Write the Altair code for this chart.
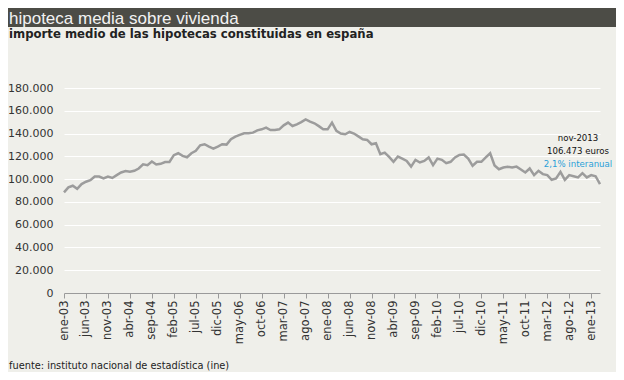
import altair as alt
import pandas as pd

# Monthly average mortgage amount (euros), ene-03 .. mar-13
values = [88300, 92700, 94200, 91500, 95600, 97700, 99000, 102300, 102300, 100600,
          102300, 101000, 103500, 105800, 107000, 106400, 107300, 109300, 113000, 112200,
          115500, 112800, 113400, 115000, 115000, 121000, 122700, 120400, 119200, 122700,
          124800, 129700, 130600, 128600, 126800, 128600, 130600, 130300, 135000, 137300,
          138800, 140200, 140200, 140800, 142800, 143700, 145200, 143100, 143100, 143700,
          147200, 149600, 146600, 148100, 150100, 152500, 150500, 149000, 146500, 143700,
          143700, 149600, 142300, 140000, 139400, 141400, 140000, 137500, 135000, 134400,
          130600, 131500, 121900, 123300, 119500, 115200, 119800, 118000, 116000, 111000,
          116900, 114600, 116000, 119000, 112200, 118000, 116900, 114000, 115200, 119000,
          121200, 121600, 118000, 111700, 115200, 115200, 119000, 122700, 112000, 108700,
          110200, 110800, 110200, 111000, 108500, 105800, 109300, 103500, 107300, 104400,
          103500, 99400, 100600, 106400, 99400, 103500, 102500, 101500, 105200, 101500,
          103500, 102500, 95600]

tick_labels = ["ene-03", "jun-03", "nov-03", "abr-04", "sep-04", "feb-05", "jul-05",
               "dic-05", "may-06", "oct-06", "mar-07", "ago-07", "ene-08", "jun-08",
               "nov-08", "abr-09", "sep-09", "feb-10", "jul-10", "dic-10", "may-11",
               "oct-11", "mar-12", "ago-12", "ene-13"]
y_ticks = [0, 20000, 40000, 60000, 80000, 100000, 120000, 140000, 160000, 180000]

title_text = "hipoteca media sobre vivienda"
subtitle_text = "importe medio de las hipotecas constituidas  en españa"
source_text = "fuente: instituto nacional de estadística (ine)"
note_lines = ["nov-2013", "106.473 euros", "2,1% interanual"]

df = pd.DataFrame({"m": list(range(len(values))), "v": values})
one = pd.DataFrame({"k": [0]})

W, H = 536, 205
PAD = {"left": 56, "top": 80, "right": 16, "bottom": 79}

label_arr = "[" + ",".join("'" + s + "'" for s in tick_labels) + "]"

bar = alt.Chart(one).mark_rect(color="#4c4c46").encode(
    x=alt.value(-56), x2=alt.value(W + 16), y=alt.value(-80), y2=alt.value(-61))

title = alt.Chart(one).mark_text(
    text=title_text, align="left", baseline="alphabetic", font="Liberation Sans",
    fontSize=17, color="#f2f2f2").encode(x=alt.value(-55), y=alt.value(-64))

subtitle = alt.Chart(one).mark_text(
    text=subtitle_text, align="left", baseline="alphabetic", font="DejaVu Sans",
    fontSize=11.7, fontWeight="bold", color="#222222").encode(x=alt.value(-55), y=alt.value(-50.5))

line = alt.Chart(df).mark_line(color="#9c9c9c", strokeWidth=2.5).encode(
    x=alt.X("m:Q", scale=alt.Scale(domain=[0, len(values) - 1], nice=False, zero=False),
            axis=alt.Axis(values=list(range(0, 5 * len(tick_labels), 5)),
                          labelExpr=label_arr + "[round(datum.value / 5)]",
                          labelAngle=270, labelFont="DejaVu Sans", labelFontSize=11.5,
                          labelColor="#333333", labelPadding=2, tickSize=5,
                          tickColor="#9a9a9a", domainColor="#9a9a9a", grid=False,
                          title=None, labelOverlap=False)),
    y=alt.Y("v:Q", scale=alt.Scale(domain=[0, 180000], nice=False),
            axis=alt.Axis(values=y_ticks,
                          labelExpr="replace(format(datum.value, ','), ',', '.')",
                          labelFont="DejaVu Sans", labelFontSize=11, labelColor="#333333",
                          labelPadding=11, ticks=False, domain=False, grid=True,
                          gridColor="#ffffff", gridWidth=1, title=None)),
)

notes = []
for i, (t, c) in enumerate(zip(note_lines, ["#111111", "#111111", "#2a9fd8"])):
    notes.append(alt.Chart(one).mark_text(
        text=t, align="center", baseline="alphabetic", font="DejaVu Sans",
        fontSize=8.6, color=c).encode(x=alt.value(514), y=alt.value(53 + 13 * i)))

source = alt.Chart(one).mark_text(
    text=source_text, align="left", baseline="alphabetic", font="DejaVu Sans",
    fontSize=9.8, color="#222222").encode(x=alt.value(-55), y=alt.value(281))

chart = alt.layer(bar, title, subtitle, line, *notes, source).properties(
    width=W, height=H,
    autosize=alt.AutoSizeParams(type="none"),
    padding=PAD,
).configure(background="#efefea").configure_view(strokeWidth=0)

chart.save("out.html", embed_options={"renderer": "svg", "actions": False})
